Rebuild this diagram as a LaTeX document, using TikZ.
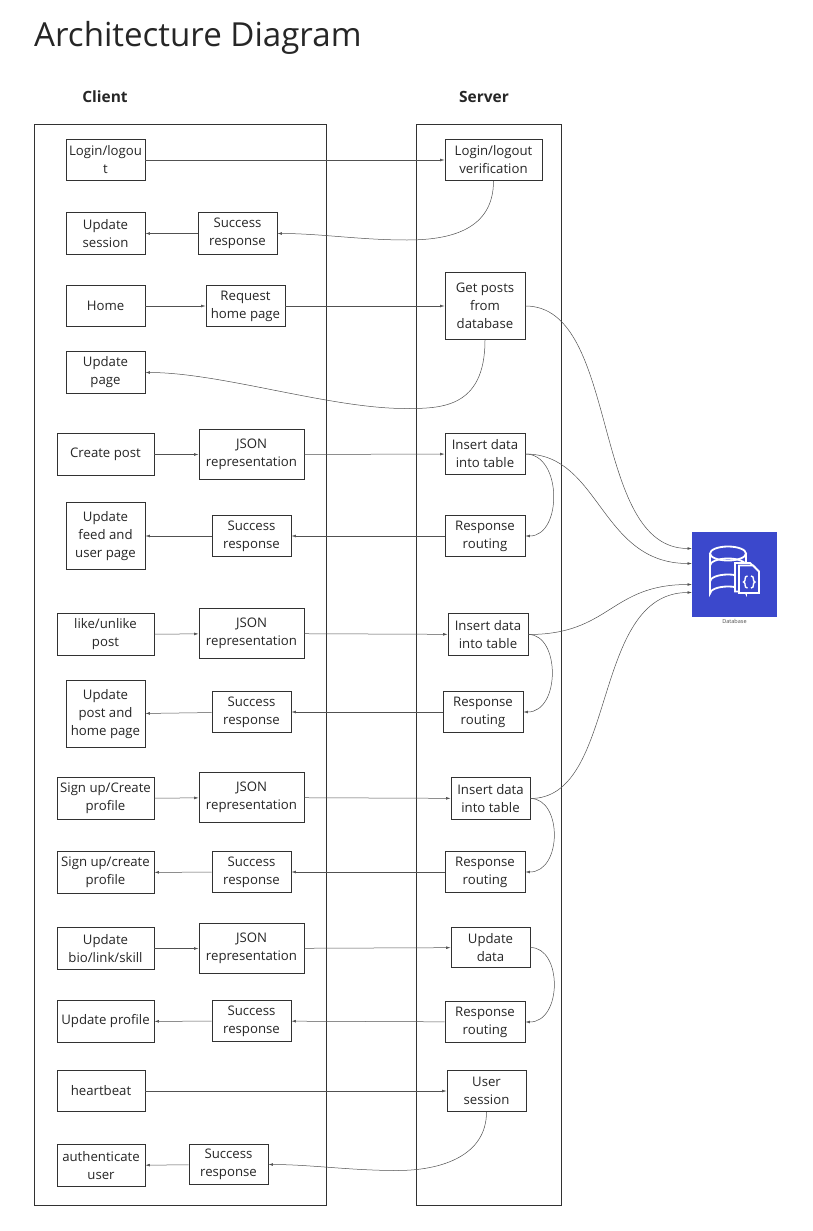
\documentclass[tikz,border=0pt]{standalone}
\usepackage{fontspec}
\setmainfont{Open Sans}
\usetikzlibrary{arrows.meta, positioning}
\definecolor{dbblue}{RGB}{59,72,204}
\definecolor{inkgray}{RGB}{50,50,50}
\tikzset{
  box/.style={draw=inkgray, line width=0.9pt, fill=white, align=center, inner sep=0pt, font=\fontsize{13.2}{18}\selectfont, text=black!85},
  smallbox/.style={box, minimum width=79pt, minimum height=41pt},
  widebox/.style={box, minimum width=97pt, minimum height=42pt},
  jsonbox/.style={box, minimum width=105pt, minimum height=50pt},
  tallbox/.style={box, minimum width=79pt, minimum height=67pt},
  frame/.style={draw=inkgray, line width=0.9pt, inner sep=0pt},
  head/.style={font=\fontsize{15.5}{18}\selectfont\bfseries, text=black!85},
  link/.style={-{Latex[length=4.5pt,width=2.8pt]}, draw=inkgray!85, line width=0.5pt}
}
\begin{document}
\begin{tikzpicture}[x=1pt,y=-1pt]
\useasboundingbox (0,0.5) rectangle (812,1231.5);
\node[anchor=west, font=\fontsize{33.1}{36}\selectfont, text=black!85, inner sep=0pt] (title) at (34,38) {Architecture Diagram};
\node[head] (clienthead) at (105,97.5) {Client};
\node[head] (serverhead) at (484,97.5) {Server};
\node[frame, minimum width=292pt, minimum height=1081pt] (clientframe) at (180,665.5) {};
\node[frame, minimum width=145pt, minimum height=1081pt] (serverframe) at (488.5,665.5) {};

% client side
\node[smallbox] (login) at (105.5,160.5) {Login/logou\\t};
\node[smallbox, minimum height=42pt] (updsession) at (105.5,234) {Update\\session};
\node[smallbox, minimum height=42pt] (succ1) at (237.5,234) {Success\\response};
\node[smallbox] (home) at (105.5,306.5) {Home};
\node[smallbox] (reqhome) at (245.5,306.5) {Request\\home page};
\node[smallbox, minimum height=42pt] (updpage) at (105.5,373) {Update\\page};
\node[widebox] (createpost) at (105.5,455) {Create post};
\node[jsonbox] (json1) at (251.5,455) {JSON\\representation};
\node[tallbox] (updfeed) at (105.5,536.5) {Update\\feed and\\user page};
\node[smallbox] (succ2) at (251.5,536.5) {Success\\response};
\node[widebox] (like) at (105.5,635) {like/unlike\\post};
\node[jsonbox] (json2) at (251.5,634) {JSON\\representation};
\node[tallbox] (updpost) at (105.5,714.5) {Update\\post and\\home page};
\node[smallbox] (succ3) at (251.5,712.5) {Success\\response};
\node[widebox] (signup) at (105.5,799) {Sign up/Create\\profile};
\node[jsonbox] (json3) at (251.5,798) {JSON\\representation};
\node[widebox] (signupb) at (105.5,873) {Sign up/create\\profile};
\node[smallbox] (succ4) at (251.5,872.5) {Success\\response};
\node[widebox] (updbio) at (105.5,949) {Update\\bio/link/skill};
\node[jsonbox] (json4) at (251.5,949) {JSON\\representation};
\node[widebox] (updprofile) at (105.5,1022) {Update profile};
\node[smallbox] (succ5) at (251.5,1021.5) {Success\\response};
\node[box, minimum width=88pt, minimum height=41pt] (heartbeat) at (101,1091.5) {heartbeat};
\node[box, minimum width=88pt, minimum height=42pt] (authuser) at (101,1166) {authenticate\\user};
\node[smallbox, minimum height=40pt] (succ6) at (228.5,1165) {Success\\response};

% server side
\node[widebox, minimum height=41pt] (verify) at (493.5,160.5) {Login/logout\\verification};
\node[tallbox, minimum width=80pt] (getposts) at (485,306.5) {Get posts\\from\\database};
\node[smallbox, minimum width=80pt] (insert1) at (485,454.5) {Insert data\\into table};
\node[smallbox, minimum width=80pt] (resp1) at (485,536.5) {Response\\routing};
\node[smallbox, minimum width=80pt, minimum height=42pt] (insert2) at (488,635) {Insert data\\into table};
\node[smallbox, minimum width=80pt] (resp2) at (483,712.5) {Response\\routing};
\node[smallbox, minimum height=42pt] (insert3) at (490.5,799) {Insert data\\into table};
\node[smallbox, minimum width=80pt] (resp3) at (485,872.5) {Response\\routing};
\node[smallbox, minimum height=40pt] (upddata) at (490.5,948) {Update\\data};
\node[smallbox, minimum width=80pt] (resp4) at (485,1022.5) {Response\\routing};
\node[smallbox] (usersession) at (486.5,1091.5) {User\\session};

% database
\node[fill=dbblue, minimum size=85pt, inner sep=0pt] (db) at (734.5,574.5) {};
\node[below=2pt of db, font=\fontsize{5.5}{6}\selectfont, text=black!70, inner sep=0pt] (dblabel) {Database};
\begin{scope}[draw=white, line width=1.8pt]
\draw (728,554) ellipse[x radius=18, y radius=7];
\draw (710,554) -- (710,594) arc[x radius=18, y radius=7, start angle=180, end angle=360] -- (746,554);
\draw (710,566) arc[x radius=18, y radius=7, start angle=180, end angle=360];
\draw (710,582) arc[x radius=18, y radius=7, start angle=180, end angle=360];
\draw[fill=dbblue] (735,563.5) -- (750,563.5) -- (755,568) -- (755,592) -- (735,592) -- cycle;
\draw[fill=dbblue] (739,566) -- (753,566) -- (759,572) -- (759,593.5) -- (739,593.5) -- cycle;
\draw[line width=1.4pt] (747.5,576.5) .. controls (743.5,576.5) and (746.5,582) .. (743.5,582.5) .. controls (746.5,583) and (743.5,588.5) .. (747.5,588.5);
\draw[line width=1.4pt] (751,576.5) .. controls (755,576.5) and (752,582) .. (755,582.5) .. controls (752,583) and (755,588.5) .. (751,588.5);
\end{scope}

% low points of the long return curves
\coordinate (bendverify) at (407,240.5);
\coordinate (bendpage) at (405,409);
\coordinate (bendsession) at (397,1171);

% requests and responses
\draw[link] (login) -- (verify);
\draw[link] (verify.south) .. controls +(0,49) and +(43,0) .. (bendverify) .. controls +(-47,0) and +(43,0) .. (succ1.east);
\draw[link] (succ1) -- (updsession);
\draw[link] (home) -- (reqhome);
\draw[link] (reqhome) -- (getposts);
\draw[link] (getposts.south) .. controls +(0,69) and +(35,0) .. (bendpage) .. controls +(-75,0) and +(75,0) .. (updpage.east);
\draw[link] (createpost) -- (json1);
\draw[link] (json1) -- (insert1);
\draw[link] (resp1) -- (succ2);
\draw[link] (succ2) -- (updfeed);
\draw[link] (like) -- (json2);
\draw[link] (json2) -- (insert2);
\draw[link] (resp2) -- (succ3);
\draw[link] (succ3) -- (updpost);
\draw[link] (signup) -- (json3);
\draw[link] (json3) -- (insert3);
\draw[link] (resp3) -- (succ4);
\draw[link] (succ4) -- (signupb);
\draw[link] (updbio) -- (json4);
\draw[link] (json4) -- (upddata);
\draw[link] (resp4) -- (succ5);
\draw[link] (succ5) -- (updprofile);
\draw[link] (heartbeat) -- (usersession);
\draw[link] (usersession.south) .. controls +(0,43) and +(46,0) .. (bendsession) .. controls +(-47,0) and +(42,0) .. (succ6.east);
\draw[link] (succ6) -- (authuser);

% insert to response
\draw[link] (insert1.east) .. controls +(37,0) and +(37,0) .. (resp1.east);
\draw[link] (insert2.east) .. controls +(32,0) and +(37,0) .. (resp2.east);
\draw[link] (insert3.east) .. controls +(32,0) and +(37,0) .. (resp3.east);
\draw[link] (upddata.east) .. controls +(32,0) and +(37,0) .. (resp4.east);

% to the database
\coordinate (dba) at (692,549);
\coordinate (dbb) at (692,564);
\coordinate (dbc) at (692,585);
\coordinate (dbd) at (692,593);
\draw[link] (getposts.east) .. controls +(95,0) and +(-102,0) .. (dba);
\draw[link] (insert1.east) .. controls +(75,0) and +(-92,0) .. (dbb);
\draw[link] (insert2.east) .. controls +(82,0) and +(-82,0) .. (dbc);
\draw[link] (insert3.east) .. controls +(88,0) and +(-102,0) .. (dbd);
\end{tikzpicture}
\end{document}
